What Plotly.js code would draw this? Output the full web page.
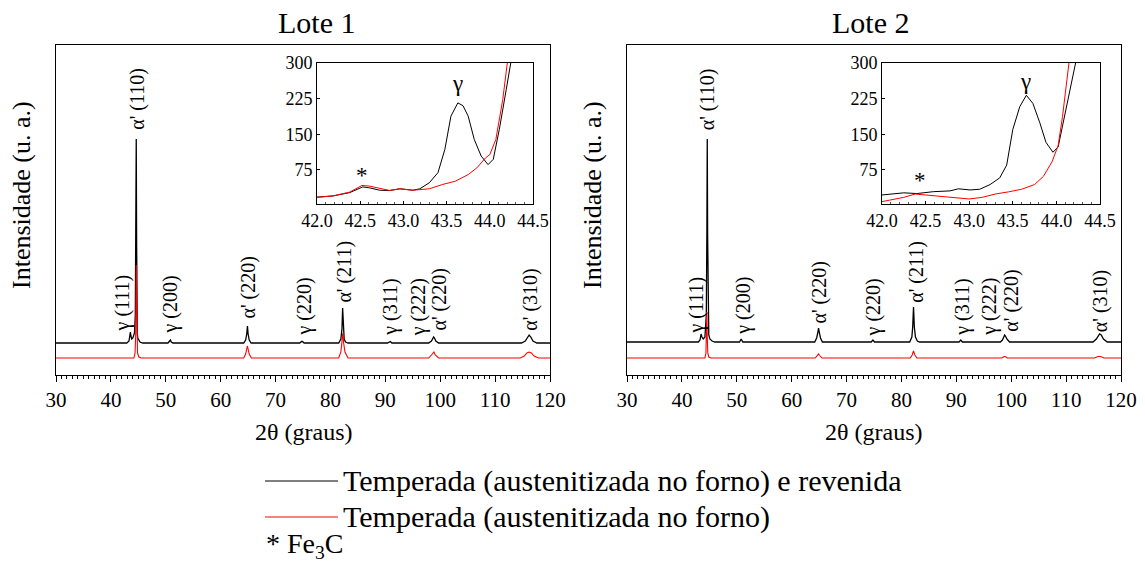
<!DOCTYPE html>
<html>
<head>
<meta charset="utf-8">
<script src="https://cdn.plot.ly/plotly-3.0.1.min.js"></script>
<style>html,body{margin:0;padding:0;background:#fff;}#chart{width:1145px;height:564px;}</style>
</head>
<body>
<div id="chart"></div>
<script>
// ---------- DATA (arbitrary intensity units) ----------
// Main panels: [2theta, intensity]
const lote1Revenida = [[30,32],[42.9,32],[43.3,34],[43.45,38],[43.55,43],[43.65,39],[43.8,36],[44.0,37],[44.3,42],[44.45,60],[44.55,140],[44.62,236],[44.68,140],[44.74,60],[44.81,42],[44.9,37],[45.05,35],[45.3,33],[45.8,32],
  [50.4,32],[50.7,34],[50.85,35],[51.0,33],[51.3,32],[64.2,32],[64.55,35],[64.75,41],[64.88,49],[65.0,41],[65.2,35],[65.55,32],
  [74.4,32],[74.75,33.5],[74.9,33.5],[75.2,32],[81.5,32],[81.9,36],[82.1,46],[82.22,67],[82.35,46],[82.5,36],[82.75,33],[83.2,32],
  [90.4,32],[90.75,33.5],[90.9,33.5],[91.2,32],[97.9,32],[98.4,34],[98.65,37],[98.8,38],[98.95,37],[99.2,34],[99.7,32],
  [114.8,32],[115.5,34],[115.9,38],[116.2,40],[116.5,38],[116.9,34],[117.6,32],[120,32]];
const lote1Temperada = [[30,17],[44.2,17],[44.4,22],[44.52,40],[44.62,110],[44.72,40],[44.85,22],[45.1,18],[45.5,17],
  [64.2,17],[64.55,21],[64.75,26],[64.88,29],[65.0,26],[65.2,21],[65.6,17],[81.5,17],[81.9,23],[82.1,32],[82.25,42],[82.4,32],[82.65,23],[83.2,17],
  [97.9,17],[98.4,20],[98.7,23],[98.85,23],[99.1,20],[99.7,17],[114.6,17],[115.3,19],[115.8,22],[116.2,23],[116.6,22],[117.1,19],[117.9,17],[120,17]];
const lote2Revenida = [[30,33],[43.0,33],[43.3,35],[43.5,41],[43.65,38],[43.9,36],[44.2,38],[44.45,60],[44.55,140],[44.62,236],[44.69,140],[44.78,60],[44.9,40],[45.1,36],[45.5,34],[46,33],
  [50.5,33],[50.8,36],[51.1,33],[64.2,33],[64.55,37],[64.75,42],[64.9,47],[65.05,42],[65.25,37],[65.6,33],[74.5,33],[74.8,35],[75.1,33],
  [81.5,33],[81.9,38],[82.05,48],[82.2,68],[82.35,48],[82.55,38],[82.9,34],[83.3,33],[90.5,33],[90.8,35],[91.1,33],
  [98.0,33],[98.4,35],[98.65,39],[98.8,40],[98.95,39],[99.2,36],[99.7,33],[114.9,33],[115.5,36],[115.9,40],[116.1,41],[116.4,40],[116.8,36],[117.5,33],[120,33]];
const lote2Temperada = [[30,17],[44.2,17],[44.38,22],[44.48,38],[44.55,63],[44.62,38],[44.72,22],[44.9,18],[45.3,17],
  [64.3,17],[64.7,19.5],[64.9,21],[65.1,19.5],[65.5,17],[81.6,17],[81.95,20],[82.2,24],[82.45,20],[82.8,17],
  [98.3,17],[98.7,18.5],[98.9,18.5],[99.3,17],[115.2,17],[115.8,18.5],[116.3,18.5],[116.9,17],[120,17]];

// Insets (counts, 42.0 - 44.5 deg)
const inset1Revenida = [[42.0,17.5],[42.185,20],[42.378,27],[42.53,39],[42.61,37],[42.725,32],[42.84,31.5],[42.96,35],[43.11,32],[43.19,35],[43.30,47.7],[43.40,69],[43.48,118],[43.55,188],[43.63,216],[43.69,210],[43.75,188],[43.82,139],[43.90,104],[43.98,86],[44.04,97],[44.11,160],[44.19,244],[44.25,300],[44.28,340]];
const inset1Temperada = [[42.0,17],[42.185,20],[42.378,28],[42.52,42],[42.6,41],[42.7,37],[42.84,31.5],[42.96,35],[43.11,32],[43.3,35],[43.45,44],[43.6,51],[43.75,65],[43.85,79],[43.95,100],[44.0,107],[44.07,139],[44.15,223],[44.2,300],[44.23,340]];
const inset2Revenida = [[42.0,22],[42.13,25],[42.25,26.5],[42.40,25],[42.59,29],[42.78,30.6],[42.875,35],[43.01,32.6],[43.12,34],[43.24,44],[43.35,58],[43.43,85],[43.50,160],[43.58,208],[43.655,232],[43.73,215],[43.81,174],[43.88,133],[43.96,112],[44.02,123],[44.09,187],[44.17,256],[44.22,300],[44.25,340]];
const inset2Temperada = [[42.0,8],[42.13,13],[42.25,17],[42.38,24],[42.5,22],[42.65,19],[42.8,17],[43.0,13.6],[43.15,17],[43.3,24],[43.45,28.5],[43.6,34],[43.75,44],[43.85,61],[43.95,92],[44.02,126],[44.07,187],[44.12,256],[44.15,300],[44.17,340]];

// Peak labels: [text, 2theta, label-centre intensity]
const peakLabels1 = [["γ (111)",42.1,72],["α' (110)",44.9,276],["γ (200)",50.7,70],["α' (220)",64.9,87],["γ (220)",75.1,68],["α' (211)",82.4,103],["γ (311)",90.8,68],["γ (222)",96.0,68],["α' (220)",99.7,75],["α' (310)",116.3,75]];
const peakLabels2 = [["γ (111)",42.5,70],["α' (110)",44.8,276],["γ (200)",51.1,69],["α' (220)",64.9,82],["γ (220)",74.9,68],["α' (211)",82.6,103],["γ (311)",91.0,68],["γ (222)",95.9,68],["α' (220)",99.9,74],["α' (310)",116.2,74]];
const insetLabels1 = [["γ",43.63,256],["*",42.52,62]];
const insetLabels2 = [["γ",43.64,262],["*",42.43,52]];

const seriesNames = ["Temperada (austenitizada no forno) e revenida","Temperada (austenitizada no forno)"];
const panelTitles = ["Lote 1","Lote 2"];
const xTickVals = [30,40,50,60,70,80,90,100,110,120];
const insetXTicks = [42.0,42.5,43.0,43.5,44.0,44.5];
const insetYTicks = [75,150,225,300];

// ---------- LAYOUT HELPERS ----------
const W = 1145, H = 564;
const FONT = "Liberation Serif";
const px = v => v / W, py = v => 1 - v / H;

function tr(pairs, color, xa, ya, w) {
  return {x: pairs.map(p => p[0]), y: pairs.map(p => p[1]), type: "scatter", mode: "lines",
    line: {color: color, width: w, shape: "linear"}, xaxis: xa, yaxis: ya, hoverinfo: "skip", showlegend: false};
}
const data = [
  tr(lote1Revenida, "#000000", "x", "y", 1.3),
  tr(lote1Temperada, "#ff0000", "x", "y", 1.1),
  tr(lote2Revenida, "#000000", "x2", "y2", 1.3),
  tr(lote2Temperada, "#ff0000", "x2", "y2", 1.1),
  tr(inset1Revenida, "#000000", "x3", "y3", 1),
  tr(inset1Temperada, "#ff0000", "x3", "y3", 1),
  tr(inset2Revenida, "#000000", "x4", "y4", 1),
  tr(inset2Temperada, "#ff0000", "x4", "y4", 1)
];

function mainX(dom, anchor) {
  return {domain: dom, anchor: anchor, range: [30, 120], tickvals: xTickVals, ticks: "outside", ticklen: 6,
    tickcolor: "#000", showline: true, mirror: true, linecolor: "#000", linewidth: 1, showgrid: false, zeroline: false,
    tickfont: {family: FONT, size: 21, color: "#000"},
    minor: {dtick: 1, ticks: "outside", ticklen: 3, tickcolor: "#000", showgrid: false}};
}
function mainY(anchor) {
  return {domain: [py(375), py(45)], anchor: anchor, range: [0, 330], showticklabels: false, ticks: "",
    showline: true, mirror: true, linecolor: "#000", linewidth: 1, showgrid: false, zeroline: false};
}
function insetX(dom, anchor) {
  return {domain: dom, anchor: anchor, range: [42, 44.5], tickvals: insetXTicks, tickformat: ".1f", ticks: "inside", ticklen: 3,
    tickcolor: "#000", showline: true, mirror: true, linecolor: "#000", linewidth: 1, showgrid: false, zeroline: false,
    tickfont: {family: FONT, size: 18, color: "#000"},
    minor: {dtick: 0.1, ticks: "inside", ticklen: 2, tickcolor: "#555", showgrid: false}};
}
function insetY(anchor) {
  return {domain: [py(204), py(63)], anchor: anchor, range: [3, 300], tickvals: insetYTicks, ticks: "inside", ticklen: 3,
    tickcolor: "#000", showline: true, mirror: true, linecolor: "#000", linewidth: 1, showgrid: false, zeroline: false,
    tickfont: {family: FONT, size: 18, color: "#000"}};
}

const annotations = [];
function peakAnn(list, xr, yr, size) {
  list.forEach(l => annotations.push({text: l[0], x: l[1], y: l[2], xref: xr, yref: yr, showarrow: false,
    textangle: -90, xanchor: "center", yanchor: "middle", font: {family: FONT, size: size, color: "#000"}}));
}
peakAnn(peakLabels1, "x", "y", 20);
peakAnn(peakLabels2, "x2", "y2", 20);
function insAnn(list, xr, yr) {
  list.forEach(l => annotations.push({text: l[0], x: l[1], y: l[2], xref: xr, yref: yr, showarrow: false,
    xanchor: "center", yanchor: "middle", font: {family: FONT, size: 23, color: "#000"}}));
}
insAnn(insetLabels1, "x3", "y3");
insAnn(insetLabels2, "x4", "y4");
function paperText(text, x, y, size, opts) {
  annotations.push(Object.assign({text: text, x: px(x), y: py(y), xref: "paper", yref: "paper", showarrow: false,
    xanchor: "center", yanchor: "middle", font: {family: FONT, size: size, color: "#000"}}, opts || {}));
}
paperText(panelTitles[0], 316, 22, 30);
paperText(panelTitles[1], 870, 22, 30);
paperText("2θ (graus)", 303, 432, 24);
paperText("2θ (graus)", 873, 432, 24);
paperText("Intensidade (u. a.)", 22, 195, 26, {textangle: -90});
paperText("Intensidade (u. a.)", 593, 195, 26, {textangle: -90});
paperText(seriesNames[0], 341, 481, 30, {xanchor: "left"});
paperText(seriesNames[1], 341, 517, 30, {xanchor: "left"});
paperText("* Fe<sub>3</sub>C", 264, 545, 28, {xanchor: "left"});

const shapes = [
  {type: "line", xref: "paper", yref: "paper", x0: px(265), x1: px(338), y0: py(481), y1: py(481), line: {color: "#000", width: 1}},
  {type: "line", xref: "paper", yref: "paper", x0: px(265), x1: px(338), y0: py(517), y1: py(517), line: {color: "#ff0000", width: 1}}
];

const layout = {
  width: W, height: H, margin: {l: 0, r: 0, t: 0, b: 0}, paper_bgcolor: "#fff", plot_bgcolor: "rgba(0,0,0,0)",
  showlegend: false, font: {family: FONT, color: "#000"},
  xaxis: mainX([px(56), px(550)], "y"), yaxis: mainY("x"),
  xaxis2: mainX([px(627), px(1121)], "y2"), yaxis2: mainY("x2"),
  xaxis3: insetX([px(317), px(533)], "y3"), yaxis3: insetY("x3"),
  xaxis4: insetX([px(882), px(1100)], "y4"), yaxis4: insetY("x4"),
  annotations: annotations, shapes: shapes
};
Plotly.newPlot("chart", data, layout, {staticPlot: true, displayModeBar: false});
</script>
</body>
</html>
